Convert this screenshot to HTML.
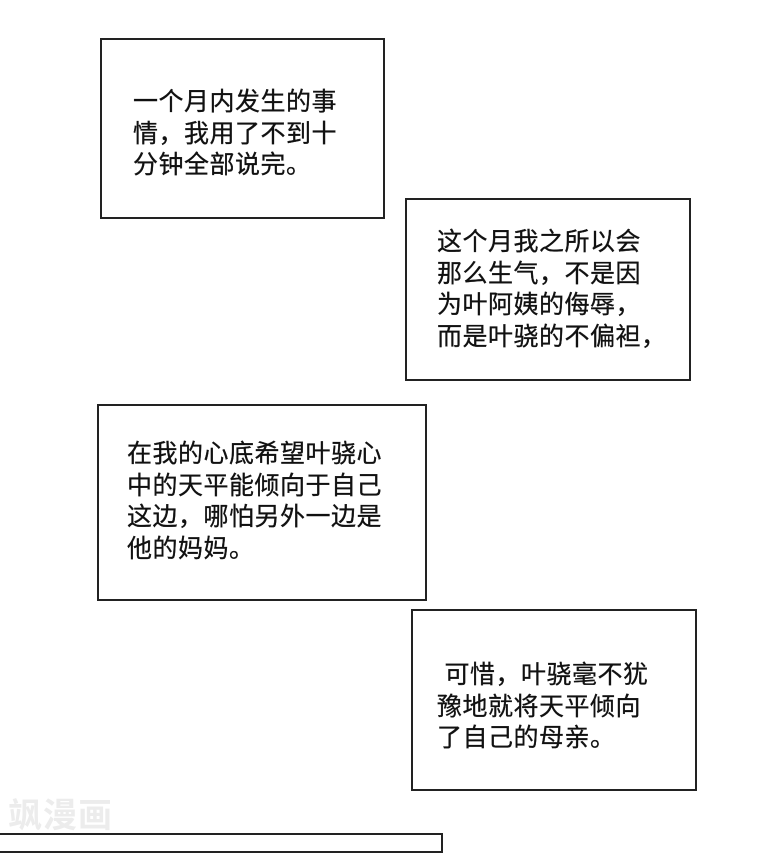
<!DOCTYPE html>
<html><head><meta charset="utf-8"><style>
body{margin:0;width:760px;height:840px;background:#fff;position:relative;overflow:hidden;font-family:"Liberation Sans","Noto Sans CJK SC",sans-serif;}
.b{position:absolute;border:2px solid #222;box-sizing:border-box;}
.t{position:absolute;font-size:25px;line-height:31.5px;color:#111;white-space:nowrap;letter-spacing:0.5px;-webkit-text-stroke:0.3px #111}
</style></head><body>
<div class="b" style="left:100px;top:38px;width:285px;height:181px"></div>
<div class="t" style="left:133px;top:87px">一个月内发生的事<br>情，我用了不到十<br>分钟全部说完。</div>
<div class="b" style="left:405px;top:198px;width:286px;height:183px"></div>
<div class="t" style="left:437px;top:227px">这个月我之所以会<br>那么生气，不是因<br>为叶阿姨的侮辱，<br>而是叶骁的不偏袒，</div>
<div class="b" style="left:97px;top:404px;width:330px;height:197px"></div>
<div class="t" style="left:127px;top:439px">在我的心底希望叶骁心<br>中的天平能倾向于自己<br>这边，哪怕另外一边是<br>他的妈妈。</div>
<div class="b" style="left:411px;top:609px;width:286px;height:182px"></div>
<div class="t" style="left:437px;top:660px">&nbsp;可惜，叶骁毫不犹<br>豫地就将天平倾向<br>了自己的母亲。</div>
<div style="position:absolute;left:8px;top:788px;font-size:34px;font-weight:bold;color:#ececec;letter-spacing:1px">飒漫画</div>
<div style="position:absolute;left:-2px;top:833px;width:445px;height:20px;border:2px solid #222;box-sizing:border-box"></div>
</body></html>
